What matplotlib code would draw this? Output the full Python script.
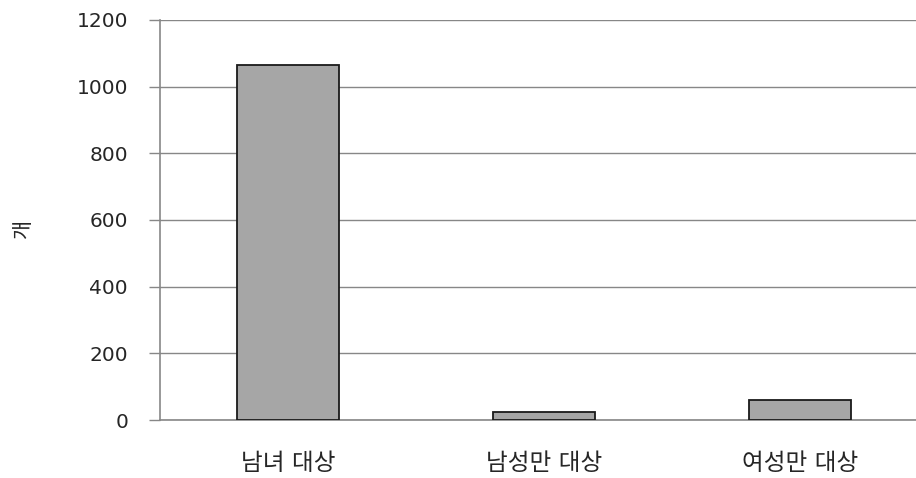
import matplotlib
matplotlib.use("Agg")
import matplotlib.pyplot as plt

plt.rcParams['font.family'] = ['DejaVu Sans', 'Noto Sans CJK KR']

categories = ['남녀 대상', '남성만 대상', '여성만 대상']
values = [1065, 25, 60]
yticks = [0, 200, 400, 600, 800, 1000, 1200]
ylabel = '개'

W, H = 916, 478
fig = plt.figure(figsize=(W / 100, H / 100), dpi=100)
left, right, bottom, top = 160, 928, 420, 20
ax = fig.add_axes([left / W, 1 - bottom / H, (right - left) / W, (bottom - top) / H])

grid_c = '#878787'
txt_c = '#262626'
ax.bar(range(len(categories)), values, width=0.4, color='#A6A6A6',
       edgecolor='#1a1a1a', linewidth=1.3, zorder=3)
ax.set_xlim(-0.5, len(categories) - 0.5)
ax.set_ylim(0, 1200)
ax.set_yticks(yticks)
ax.set_yticklabels([str(v) for v in yticks], fontsize=14.5, color=txt_c)
ax.set_xticks(range(len(categories)))
ax.set_xticklabels(categories, fontsize=17, color=txt_c)
ax.yaxis.grid(True, color=grid_c, linewidth=1.0, zorder=0)
ax.tick_params(axis='y', length=8, color=grid_c, width=1.0, pad=15)
ax.tick_params(axis='x', length=0, pad=22)
for s in ['top', 'right']:
    ax.spines[s].set_visible(False)
for s in ['left', 'bottom']:
    ax.spines[s].set_color(grid_c)
    ax.spines[s].set_linewidth(1.2)
fig.text(23 / W, 1 - 228 / H, ylabel, rotation=90, ha='center', va='center',
         fontsize=15, color=txt_c)

fig.savefig('out.png', dpi=100)
